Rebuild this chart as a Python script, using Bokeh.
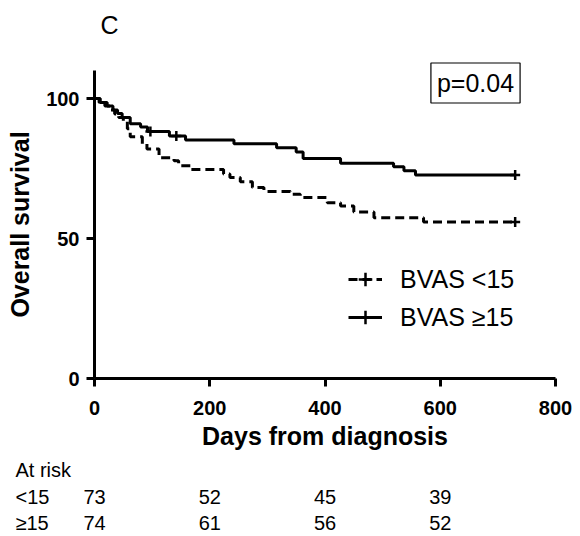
from bokeh.plotting import figure
from bokeh.models import (Range1d, Label, Legend, LegendItem, FixedTicker)
from bokeh.core.properties import value
from bokeh.embed import file_html
from bokeh.resources import INLINE

# ---------------- data ----------------
# BVAS <15 (dashed) Kaplan-Meier steps
lo_days = [0, 8, 18, 28, 35, 42, 50, 57, 62, 83, 91, 112, 138, 146, 167, 224, 235,
           253, 274, 294, 340, 357, 404, 427, 450, 485, 571, 730]
lo_surv = [100, 98.6, 97.3, 95.9, 94.5, 93.2, 91.8, 89.2, 86.3, 83.8, 82.0, 78.8,
           77.8, 76.0, 74.6, 73.0, 71.8, 70.3, 68.2, 66.8, 65.8, 64.6, 62.8, 61.6,
           59.5, 57.4, 55.9, 55.9]
lo_cens_days = [730]
lo_cens_surv = [55.9]

# BVAS >=15 (solid) Kaplan-Meier steps
hi_days = [0, 10, 22, 32, 40, 48, 62, 80, 92, 130, 158, 242, 316, 350, 362, 427,
           519, 537, 557, 730]
hi_surv = [100, 98.6, 97.3, 95.9, 94.6, 93.2, 91.0, 89.8, 88.2, 86.6, 85.2, 83.8,
           82.4, 80.9, 78.6, 76.9, 75.6, 74.2, 72.7, 72.7]
hi_cens_days = [97, 142, 730]
hi_cens_surv = [88.2, 86.6, 72.7]

x_ticks = [0, 200, 400, 600, 800]
y_ticks = [0, 50, 100]

risk_days = [0, 200, 400, 600]
risk_lo = [73, 52, 45, 39]
risk_hi = [74, 61, 56, 52]
risk_title = "At risk"
risk_row_labels = ["<15", "\u226515"]

series_labels = ["BVAS <15", "BVAS \u226515"]
p_text = "p=0.04"
panel_letter = "C"

# ---------------- layout (image pixels) ----------------
W, H = 580, 536
FX0, FX1, FY0, FY1 = 94, 555, 378, 70      # axis extents in pixels
XMAX, YAXMAX = 800, 110
FONT = "Liberation Sans"


def xd(px):
    return (px - FX0) * XMAX / (FX1 - FX0)


def yd(py):
    return (FY0 - py) * YAXMAX / (FY0 - FY1)


p = figure(width=W, height=H, output_backend="svg", toolbar_location=None,
           x_range=Range1d(xd(0), xd(W)), y_range=Range1d(yd(H), yd(0)),
           min_border_left=0, min_border_right=0,
           min_border_top=0, min_border_bottom=0)
p.outline_line_color = None
p.xgrid.visible = False
p.ygrid.visible = False
p.background_fill_color = "white"
p.border_fill_color = "white"

for ax in (p.xaxis[0], p.yaxis[0]):
    ax.axis_line_width = 3
    ax.major_tick_line_width = 3
    ax.major_tick_out = 8
    ax.major_tick_in = 0
    ax.minor_tick_line_color = None
    ax.major_label_text_font = FONT
    ax.major_label_text_font_style = "bold"
    ax.major_label_text_font_size = "20px"
    ax.major_label_text_color = "black"
    ax.axis_label_text_font = FONT
    ax.axis_label_text_font_style = "bold"
    ax.axis_label_text_font_size = "25px"
    ax.axis_label_text_color = "black"

p.xaxis.ticker = FixedTicker(ticks=x_ticks)
p.yaxis.ticker = FixedTicker(ticks=y_ticks)
p.xaxis.fixed_location = 0
p.yaxis.fixed_location = 0
p.xaxis.bounds = (0, XMAX)
p.yaxis.bounds = (0, YAXMAX)
p.xaxis.axis_label = "Days from diagnosis"
p.yaxis.axis_label = "Overall survival"
p.xaxis.major_label_standoff = 14
p.yaxis.major_label_standoff = 7
p.xaxis.axis_label_standoff = 4
p.yaxis.axis_label_standoff = 9

r_lo = p.step(lo_days, lo_surv, mode="after", line_color="black", line_width=3,
              line_dash="9 5")
r_hi = p.step(hi_days, hi_surv, mode="after", line_color="black", line_width=3)
c_lo = p.scatter(lo_cens_days, lo_cens_surv, marker="cross", size=10,
                 line_color="black", line_width=2.5)
c_hi = p.scatter(hi_cens_days, hi_cens_surv, marker="cross", size=10,
                 line_color="black", line_width=2.5)

legend = Legend(items=[LegendItem(label=series_labels[0], renderers=[r_lo, c_lo]),
                       LegendItem(label=series_labels[1], renderers=[r_hi, c_hi])],
                location=(348, H - 336),
                border_line_color=None, background_fill_alpha=0,
                padding=0, spacing=0, margin=0,
                glyph_width=34, glyph_height=38, label_height=38,
                label_standoff=18, label_text_font=FONT,
                label_text_font_size="25px", label_text_color="black")
p.add_layout(legend)

# p-value box
p.add_layout(Label(x=xd(475), y=yd(82.5), text=p_text, text_align="center",
                   text_baseline="middle", text_font=FONT, text_font_size="25px",
                   text_color="black", border_line_color="black",
                   border_line_width=1.2, background_fill_color="white",
                   padding=6))

# panel letter
p.add_layout(Label(x=xd(100), y=yd(24), text=panel_letter, text_align="left",
                   text_baseline="alphabetic", text_font=FONT,
                   text_font_size="25px", text_color="black"))

# ---------------- at-risk table ----------------
row_y = [yd(496), yd(522)]
label_x = xd(15)
p.text(x=[label_x] * 3, y=[yd(469)] + row_y,
       text=[risk_title] + risk_row_labels, text_align="left",
       text_baseline="middle", text_font=value(FONT), text_font_size="20px",
       text_color="black")
for counts, yy in zip([risk_lo, risk_hi], row_y):
    p.text(x=risk_days, y=[yy] * len(risk_days), text=[str(c) for c in counts],
           text_align="center", text_baseline="middle", text_font=value(FONT),
           text_font_size="20px", text_color="black")

open("out.html", "w").write(file_html(p, INLINE))
